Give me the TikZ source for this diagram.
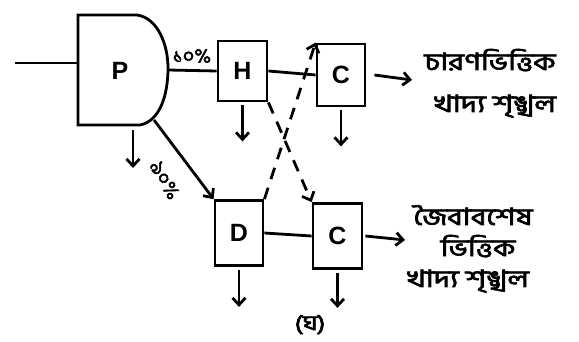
\documentclass[tikz,border=0pt]{standalone}
\usepackage{fontspec}
\setmainfont{Liberation Sans}
\newfontfamily\bn[Script=Bengali,AutoFakeBold=2.5]{Hind Siliguri}
\usetikzlibrary{arrows.meta}
\begin{document}
\begin{tikzpicture}[x=1pt,y=-1pt,
  line width=2.8pt,
  every node/.style={inner sep=0pt},
  letter/.style={font=\bfseries\fontsize{25}{25}\selectfont},
  box/.style={draw,letter,minimum width=48pt,minimum height=62pt},
  flow/.style={-{Straight Barb[length=7pt,width=13pt]}},
  dashline/.style={dash pattern=on 12pt off 9pt},
  bntext/.style={font=\bn\bfseries\fontsize{24}{24}\selectfont,xscale=1.25,
    text height=15pt,text depth=3pt},
  pct/.style={font=\bn\bfseries\fontsize{20}{20}\selectfont}]
\useasboundingbox (0,0) rectangle (579,342);

% producer block: flat left side, rounded right side
\draw (78,15) -- (137,15) .. controls (158,18) and (168,45) .. (168,68)
      .. controls (168,95) and (160,121) .. (140,125) -- (78,125) -- cycle;
\node[letter] (P) at (120,71) {P};
\coordinate (Pin) at (78,63);
\coordinate (Pout) at (168,70);
\coordinate (Pdiag) at (154,120);
\coordinate (Pbot) at (133,130);
\coordinate (src) at (15,63);
\draw (src) -- (Pin);

% consumer boxes
\node[box,minimum width=49pt,minimum height=60pt] (H) at (242.5,71) {H};
\node[box] (C1) at (341,75) {C};
\node[box,minimum height=65pt] (D) at (239,233) {D};
\node[box,minimum width=49pt,minimum height=65pt] (C2) at (337.5,236) {C};

% grazing chain
\draw (Pout) -- (H.west);
\draw (H.east) -- (C1.west);
\node[pct] (p10) at (192,56) {১০\%};

% detritus chain
\draw[flow] (Pdiag) -- (D.north west);
\node[pct,rotate=-60] (p90) at (165,180) {৯০\%};
\draw (D.east) -- (C2.west);

% crossing dashed transfers
\draw[dashline,flow] (H.south east) -- (C2.north west);
\draw[dashline,flow] (D.north east) -- (C1.north west);

% losses
\coordinate (Pl) at (133,168);
\draw[flow] (Pbot) -- (Pl);
\draw[flow] ([yshift=-3pt]H.south) -- ++(0,36);
\draw[flow] ([yshift=-3pt]C1.south) -- ++(0,36);
\draw[flow] ([yshift=-3pt]D.south) -- ++(0,37);
\draw[flow] ([yshift=-3pt]C2.south) -- ++(0,35);

% outputs
\coordinate (o1) at (412,80);
\coordinate (o2) at (405,240);
\draw[flow] ([xshift=8pt]C1.east) -- (o1);
\draw[flow] ([xshift=2pt]C2.east) -- (o2);

\node[bntext] (t1) at (490,64) {চারণভিত্তিক};
\node[bntext] (t2) at (495,106) {খাদ্য শৃঙ্খল};
\node[bntext] (t3) at (473,219) {জৈবাবশেষ};
\node[bntext] (t4) at (478,250) {ভিত্তিক};
\node[bntext] (t5) at (468,281) {খাদ্য শৃঙ্খল};
\node[bntext,font=\bn\bfseries\fontsize{21}{21}\selectfont,xscale=1] (cap) at (310,324) {(ঘ)};
\end{tikzpicture}
\end{document}
